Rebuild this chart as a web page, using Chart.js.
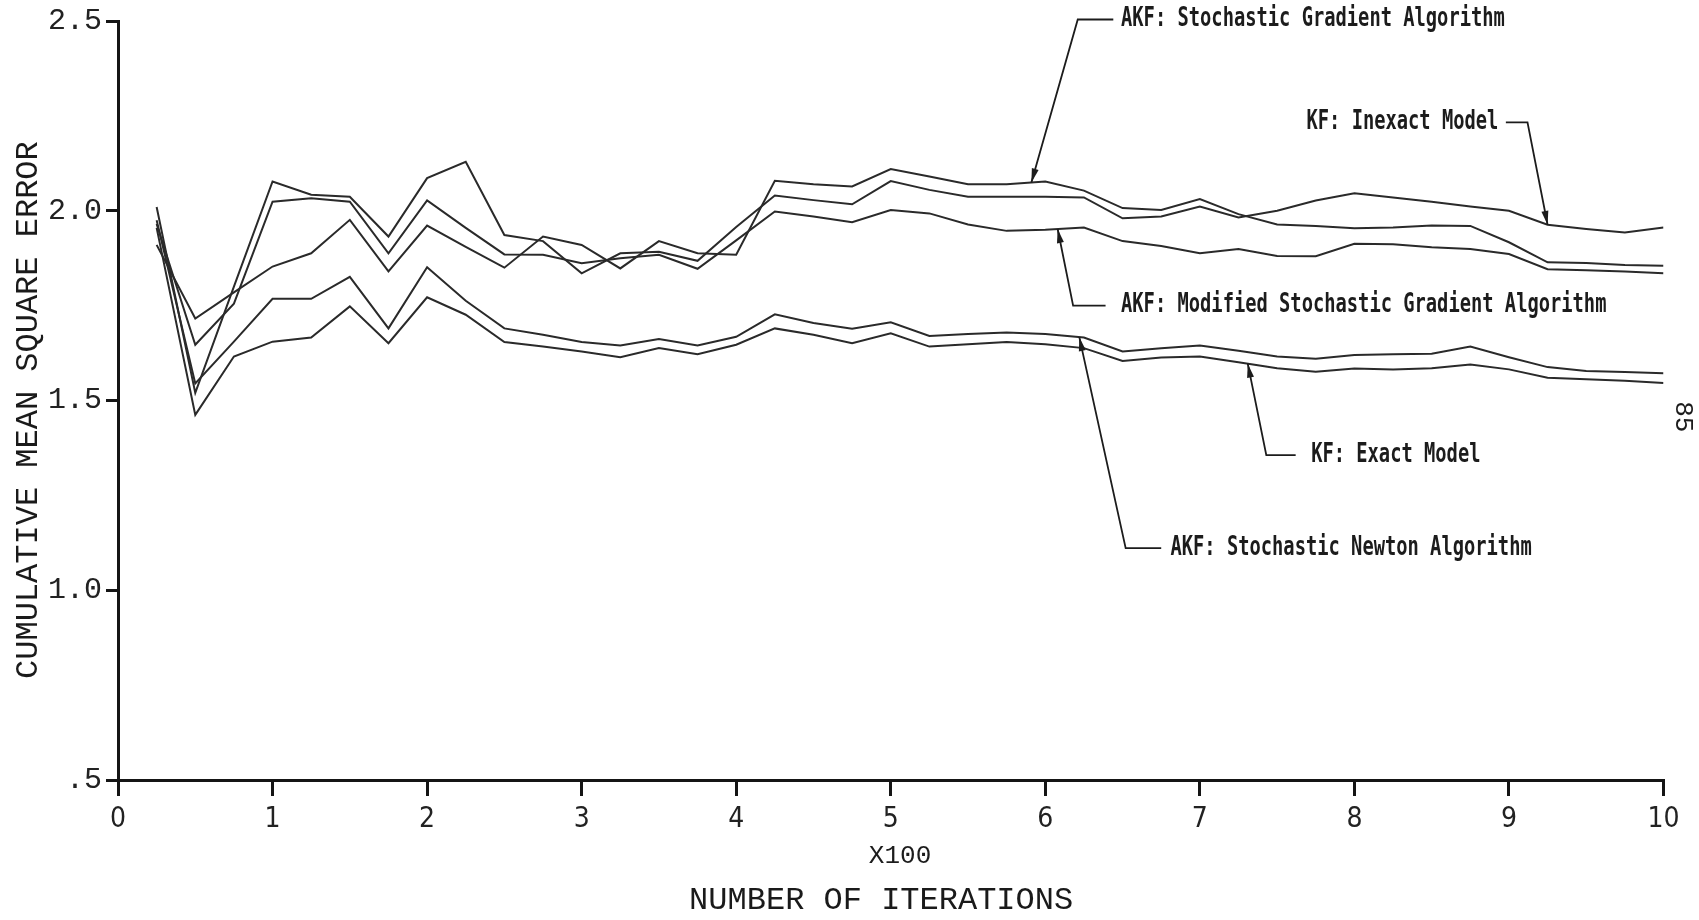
<!DOCTYPE html>
<html>
<head>
<meta charset="utf-8">
<script src="https://cdn.jsdelivr.net/npm/chart.js@4.4.1/dist/chart.umd.min.js"></script>
<style>
html,body{margin:0;padding:0;background:#ffffff;overflow:hidden}
canvas{display:block}
</style>
</head>
<body>
<canvas id="c" width="1699" height="920"></canvas>
<script>
// Iterations (x100)
const iterations = [0.25,0.5,0.75,1,1.25,1.5,1.75,2,2.25,2.5,2.75,3,3.25,3.5,3.75,4,4.25,4.5,4.75,5,
                    5.25,5.5,5.75,6,6.25,6.5,6.75,7,7.25,7.5,7.75,8,8.25,8.5,8.75,9,9.25,9.5,9.75,10];

// AKF: Stochastic Gradient Algorithm
const akfStochasticGradient = [1.91,1.716,1.785,1.853,1.888,1.976,1.84,1.961,1.905,1.85,1.932,1.91,1.848,1.92,1.888,1.884,2.079,2.07,2.064,2.11,
                               2.09,2.07,2.07,2.077,2.053,2.007,2.002,2.031,1.991,1.964,1.96,1.954,1.956,1.961,1.96,1.917,1.864,1.862,1.857,1.855];
// KF: Inexact Model
const kfInexactModel = [2.01,1.52,1.80,2.077,2.042,2.037,1.932,2.086,2.129,1.936,1.92,1.835,1.888,1.892,1.868,1.957,2.04,2.028,2.017,2.078,
                        2.055,2.037,2.037,2.037,2.035,1.98,1.985,2.011,1.982,2.0,2.027,2.046,2.035,2.024,2.011,2.0,1.963,1.952,1.943,1.956];
// AKF: Modified Stochastic Gradient Algorithm
const akfModifiedStochasticGradient = [1.965,1.647,1.755,2.024,2.033,2.024,1.888,2.027,1.955,1.885,1.884,1.862,1.875,1.884,1.847,1.922,1.998,1.985,1.97,2.002,
                                       1.993,1.964,1.947,1.95,1.956,1.92,1.907,1.888,1.899,1.881,1.88,1.913,1.912,1.904,1.899,1.886,1.846,1.843,1.84,1.835];
// AKF: Stochastic Newton Algorithm
const akfStochasticNewton = [1.975,1.545,1.655,1.768,1.768,1.826,1.69,1.851,1.763,1.69,1.673,1.654,1.645,1.662,1.645,1.668,1.727,1.704,1.689,1.706,
                             1.67,1.675,1.679,1.675,1.666,1.629,1.638,1.645,1.631,1.616,1.61,1.62,1.622,1.623,1.642,1.614,1.588,1.578,1.575,1.572];
// KF: Exact Model
const kfExactModel = [1.955,1.462,1.616,1.655,1.666,1.748,1.651,1.772,1.726,1.654,1.642,1.629,1.614,1.638,1.622,1.647,1.69,1.673,1.651,1.677,
                      1.642,1.648,1.654,1.648,1.638,1.604,1.613,1.616,1.601,1.585,1.576,1.584,1.582,1.585,1.595,1.582,1.56,1.556,1.552,1.546];

// Tick labels
const xTickValues = [0,1,2,3,4,5,6,7,8,9,10];
const xTickLabels = ['0','1','2','3','4','5','6','7','8','9','10'];
const yTickValues = [0.5,1.0,1.5,2.0,2.5];
const yTickLabels = ['.5','1.0','1.5','2.0','2.5'];

const seriesByName = {
  sg: akfStochasticGradient,
  inexact: kfInexactModel,
  modified: akfModifiedStochasticGradient,
  newton: akfStochasticNewton,
  exact: kfExactModel
};

// Annotation texts and where their arrows point (data units)
const annotations = [
  {text:'AKF: Stochastic Gradient Algorithm', series:'sg', tipX:5.91, cornerX:6.21, lineEndX:6.44, textX:6.49, labelY:2.504},
  {text:'KF: Inexact Model', series:'inexact', tipX:9.25, cornerX:9.12, lineEndX:8.98, textX:7.69, labelY:2.233},
  {text:'AKF: Modified Stochastic Gradient Algorithm', series:'modified', tipX:6.08, cornerX:6.18, lineEndX:6.39, textX:6.49, labelY:1.75},
  {text:'KF: Exact Model', series:'exact', tipX:7.31, cornerX:7.43, lineEndX:7.62, textX:7.72, labelY:1.356},
  {text:'AKF: Stochastic Newton Algorithm', series:'newton', tipX:6.22, cornerX:6.52, lineEndX:6.75, textX:6.81, labelY:1.111}
];

function valueAt(series, xv) {
  for (let i = 0; i < iterations.length - 1; i++) {
    if (xv >= iterations[i] && xv <= iterations[i+1]) {
      const t = (xv - iterations[i]) / (iterations[i+1] - iterations[i]);
      return series[i] + t * (series[i+1] - series[i]);
    }
  }
  return series[series.length - 1];
}

const annotationPlugin = {
  id: 'annotations',
  afterDraw(chart) {
    const ctx = chart.ctx;
    const xs = chart.scales.x, ys = chart.scales.y;
    ctx.save();
    ctx.strokeStyle = '#1c1c1c';
    ctx.fillStyle = '#1c1c1c';
    ctx.lineWidth = 1.8;
    annotations.forEach(a => {
      const tipPx = xs.getPixelForValue(a.tipX);
      const tipPy = ys.getPixelForValue(valueAt(seriesByName[a.series], a.tipX));
      const cornerPx = xs.getPixelForValue(a.cornerX);
      const linePy = ys.getPixelForValue(a.labelY);
      const endPx = xs.getPixelForValue(a.lineEndX);
      ctx.beginPath();
      ctx.moveTo(endPx, linePy);
      ctx.lineTo(cornerPx, linePy);
      ctx.lineTo(tipPx, tipPy);
      ctx.stroke();
      let dx = tipPx - cornerPx, dy = tipPy - linePy;
      const len = Math.hypot(dx, dy); dx /= len; dy /= len;
      const bx = tipPx - dx * 14, by = tipPy - dy * 14;
      ctx.beginPath();
      ctx.moveTo(tipPx, tipPy);
      ctx.lineTo(bx - dy * 3.5, by + dx * 3.5);
      ctx.lineTo(bx + dy * 3.5, by - dx * 3.5);
      ctx.closePath();
      ctx.fill();
      ctx.save();
      ctx.font = 'bold 25px "DejaVu Sans Mono", "Liberation Mono", monospace';
      ctx.textBaseline = 'middle';
      ctx.textAlign = 'left';
      ctx.translate(xs.getPixelForValue(a.textX), linePy);
      ctx.scale(0.75, 1.04);
      ctx.fillText(a.text, 0, 0);
      ctx.restore();
    });
    // X100 multiplier label
    ctx.font = '26px "Liberation Mono", "DejaVu Sans Mono", monospace';
    ctx.textAlign = 'center';
    ctx.textBaseline = 'middle';
    ctx.fillText('X100', xs.getPixelForValue(5.06), ys.getPixelForValue(0.3));
    // page number
    ctx.save();
    ctx.translate(xs.getPixelForValue(10.126), ys.getPixelForValue(1.457));
    ctx.rotate(Math.PI / 2);
    ctx.font = '26px "Liberation Mono", "DejaVu Sans Mono", monospace';
    ctx.fillText('85', 0, 0);
    ctx.restore();
    ctx.restore();
  }
};

const lineColor = '#2a2a2a';
const makeSet = (label, arr) => ({
  label: label,
  data: iterations.map((xv, i) => ({x: xv, y: arr[i]})),
  borderColor: lineColor,
  borderWidth: 2,
  pointRadius: 0,
  tension: 0,
  fill: false
});

new Chart(document.getElementById('c'), {
  type: 'line',
  data: {
    datasets: [
      makeSet('AKF: Stochastic Gradient Algorithm', akfStochasticGradient),
      makeSet('KF: Inexact Model', kfInexactModel),
      makeSet('AKF: Modified Stochastic Gradient Algorithm', akfModifiedStochasticGradient),
      makeSet('AKF: Stochastic Newton Algorithm', akfStochasticNewton),
      makeSet('KF: Exact Model', kfExactModel)
    ]
  },
  options: {
    responsive: false,
    animation: false,
    devicePixelRatio: 1,
    layout: {padding: {top: 21, right: 35.5, left: 0, bottom: 0}},
    plugins: {legend: {display: false}, tooltip: {enabled: false}},
    scales: {
      x: {
        type: 'linear',
        min: 0, max: 10,
        afterFit(scale) { scale.height = 140; },
        afterBuildTicks(scale) { scale.ticks = xTickValues.map(v => ({value: v})); },
        ticks: {
          callback: (v) => { const i = xTickValues.indexOf(v); return i >= 0 ? xTickLabels[i] : ''; },
          font: {family: '"Liberation Sans Narrow", "DejaVu Sans Condensed", "Liberation Sans", sans-serif', size: 28, lineHeight: 1},
          color: '#222',
          padding: 10,
          maxRotation: 0,
          autoSkip: false
        },
        grid: {drawOnChartArea: false, drawTicks: true, tickLength: 16, lineWidth: 3, color: '#151515'},
        border: {display: true, width: 3, color: '#151515'},
        title: {
          display: true,
          text: 'NUMBER OF ITERATIONS ',
          font: {family: '"Liberation Mono", "DejaVu Sans Mono", monospace', size: 32, lineHeight: 1.2},
          color: '#1a1a1a',
          padding: {top: 0, bottom: 0}
        }
      },
      y: {
        type: 'linear',
        min: 0.5, max: 2.5,
        afterFit(scale) { scale.width = 118; },
        afterBuildTicks(scale) { scale.ticks = yTickValues.map(v => ({value: v})); },
        ticks: {
          callback: (v) => { const i = yTickValues.indexOf(v); return i >= 0 ? yTickLabels[i] : ''; },
          font: {family: '"Liberation Mono", "DejaVu Sans Mono", monospace', size: 30, lineHeight: 1},
          color: '#222',
          padding: 4,
          autoSkip: false
        },
        grid: {drawOnChartArea: false, drawTicks: true, tickLength: 12, lineWidth: 3, color: '#151515'},
        border: {display: true, width: 3, color: '#151515'},
        title: {
          display: true,
          text: 'CUMULATIVE MEAN SQUARE ERROR ',
          font: {family: '"Liberation Mono", "DejaVu Sans Mono", monospace', size: 32, lineHeight: 1.2},
          color: '#1a1a1a',
          padding: {top: 9, bottom: 0}
        }
      }
    }
  },
  plugins: [annotationPlugin]
});
</script>
</body>
</html>
